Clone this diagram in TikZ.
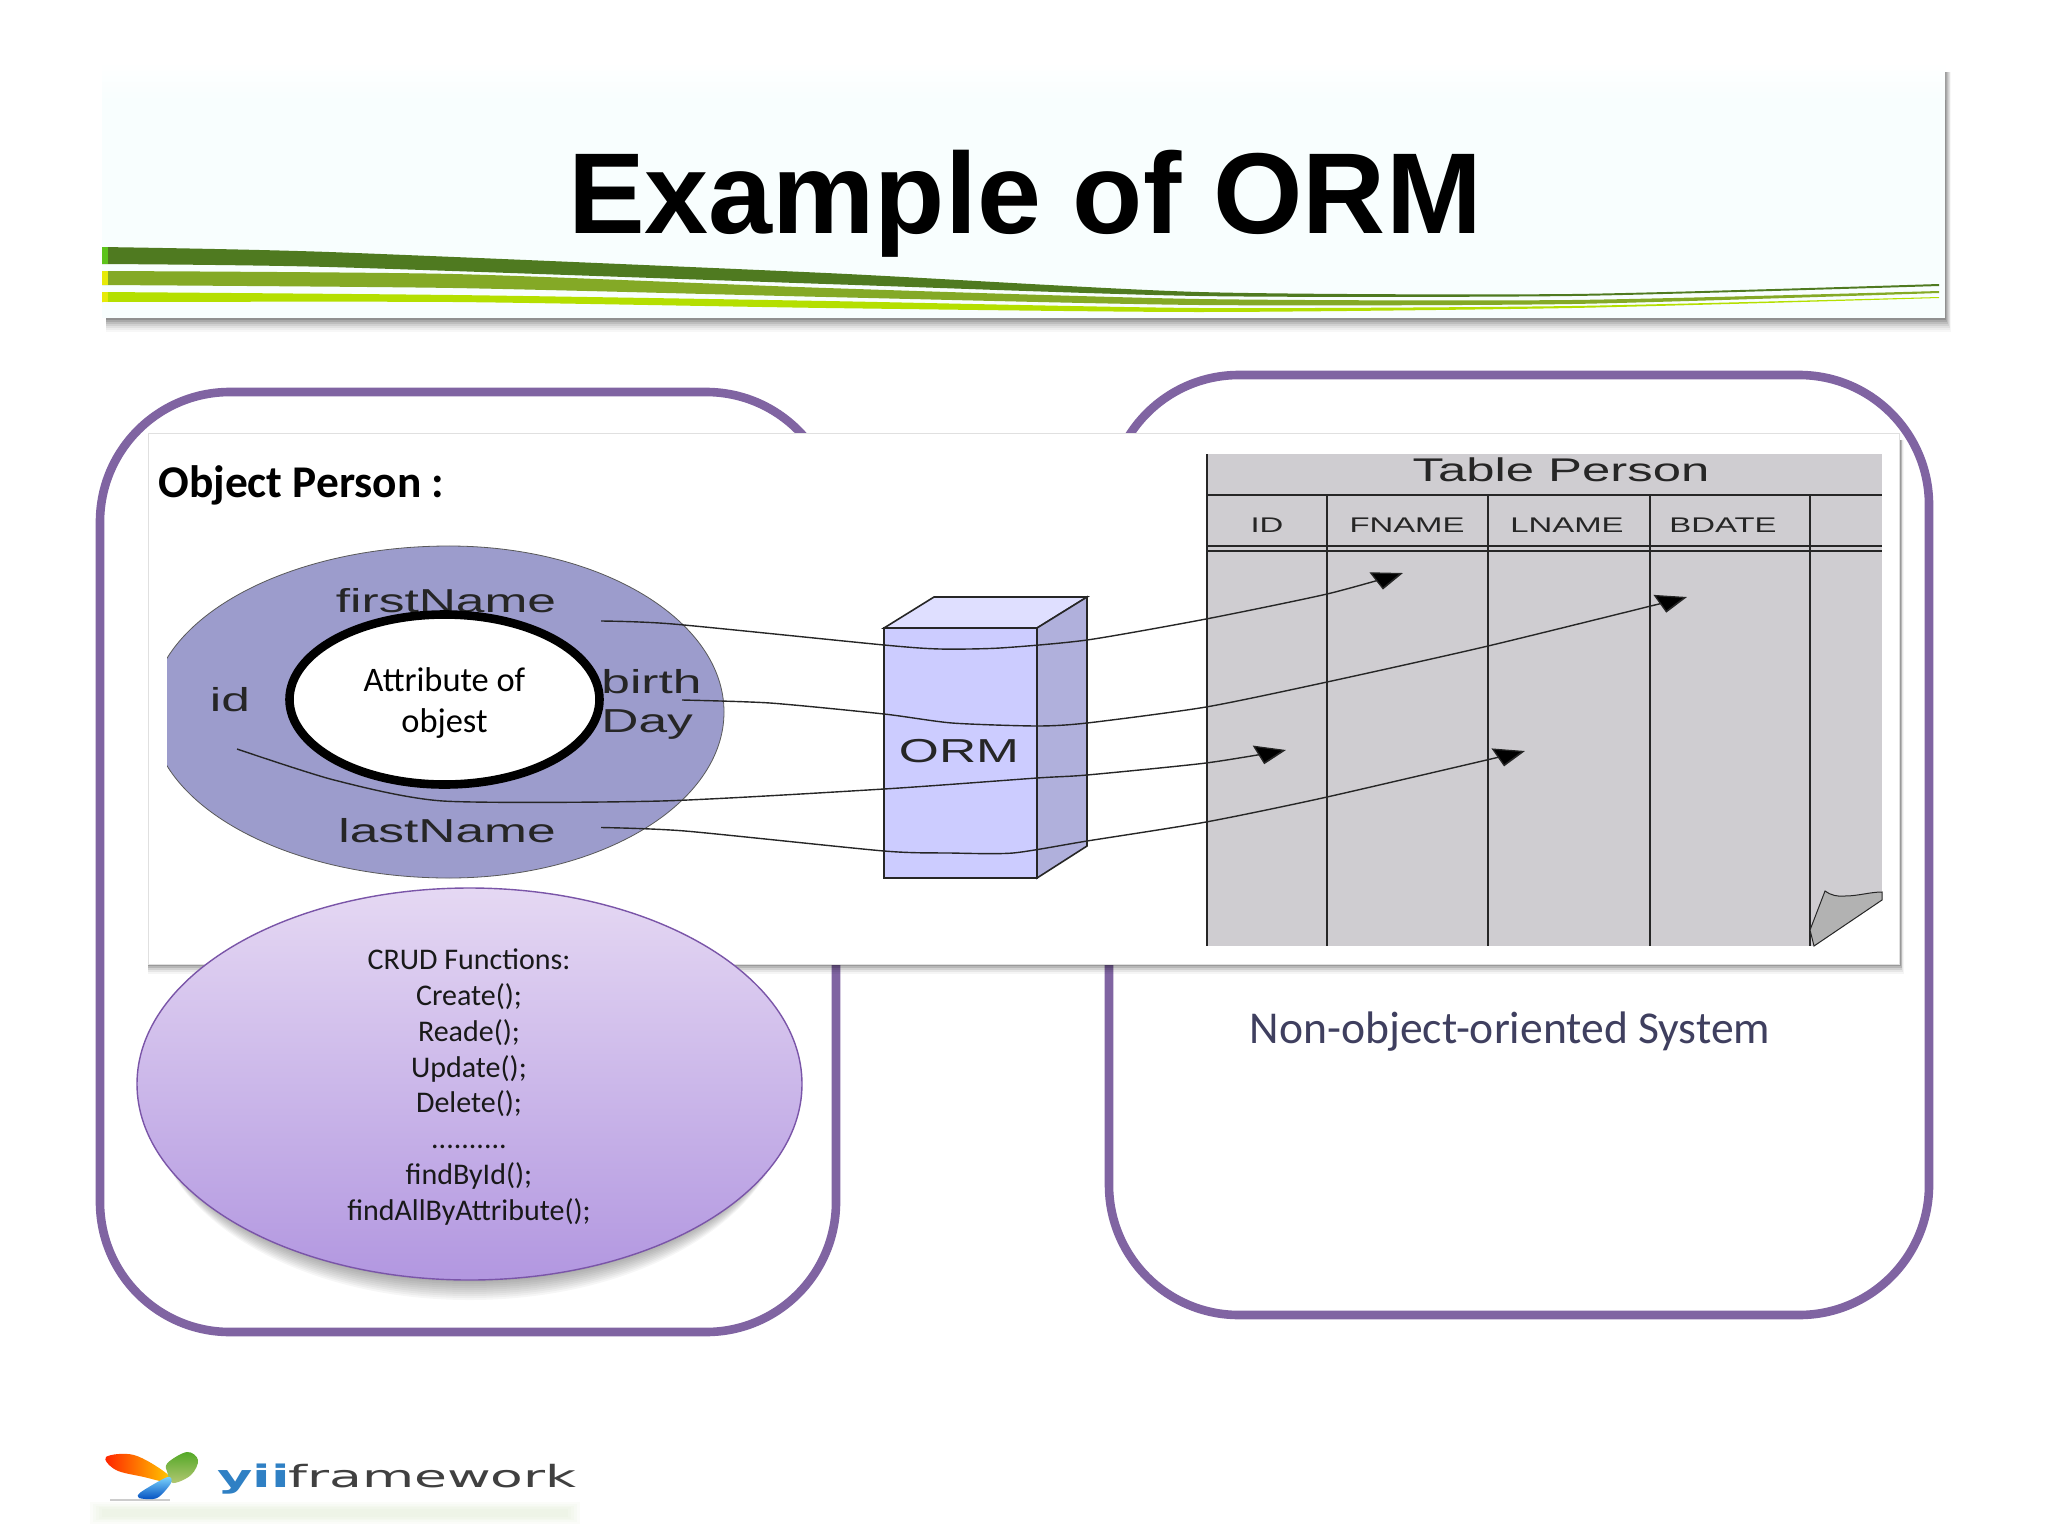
\documentclass[tikz,border=0pt]{standalone}
\usepackage{fontspec}
\setmainfont{Carlito}
\newfontfamily\titlefont{Liberation Sans}[BoldFont=* Bold]
\newfontfamily\wide{Liberation Sans}[FakeStretch=1.55]
\newfontfamily\logofont{DejaVu Sans}[FakeStretch=1.75]
\usetikzlibrary{shapes.geometric,arrows.meta}
\definecolor{slidebg}{HTML}{F8FEFE}
\definecolor{stripeA}{HTML}{4F7A20}
\definecolor{stripeB}{HTML}{84A926}
\definecolor{stripeC}{HTML}{B4DF00}
\definecolor{boxpurple}{HTML}{8064A2}
\definecolor{blobblue}{HTML}{9C9CCC}
\definecolor{crudtop}{HTML}{E5D8F3}
\definecolor{crudbot}{HTML}{B297E0}
\definecolor{crudline}{HTML}{7A55A8}
\definecolor{ormfront}{HTML}{CCCCFF}
\definecolor{ormtop}{HTML}{DFDFFF}
\definecolor{ormside}{HTML}{B0B0DC}
\definecolor{tablegray}{HTML}{CFCDD1}
\definecolor{curlgray}{HTML}{B2B2B2}
\definecolor{inktext}{HTML}{262626}
\definecolor{subtitle}{HTML}{3F3F5F}
\definecolor{glow}{HTML}{DCEBCB}
\definecolor{yiiblue}{HTML}{2F80C4}
\tikzset{
  x=0.5pt,y=-0.5pt,
  conn/.style={draw=inktext,line width=0.7pt,-{Triangle[length=14pt,width=10pt,slant=-0.4,fill=black]}},
  tline/.style={draw=black!85,line width=0.9pt},
  bigbox/.style={draw=boxpurple,line width=4.3pt,rounded corners=65pt,inner sep=0pt,fill=white},
  wlabel/.style={font=\wide\fontsize{16.6}{19}\selectfont,text=inktext,inner sep=0pt,anchor=center},
  hlabel/.style={font=\wide\fontsize{10.6}{12}\selectfont,text=inktext,inner sep=0pt,anchor=center},
  smooth curve/.style={smooth,tension=0.4},
}
\begin{document}
\begin{tikzpicture}
\useasboundingbox (0,0) rectangle (2048,1536);
\fill[white] (0,0) rectangle (2048,1536);

% slide header with soft shadow
\foreach \o/\a in {14/0.03,12/0.04,10/0.05,8/0.07,6/0.09,4/0.11,2/0.14}{
  \fill[black,opacity=\a] (106,72) rectangle (1945+\o*0.45,318+\o);
}
\fill[slidebg] (102,62) rectangle (1945,318);
\shade[top color=white,bottom color=slidebg] (102,62) rectangle (1945,100);
\fill[stripeA] plot[smooth curve] coordinates {(102,247) (329,252) (826,273) (1199,292) (1572,294) (1939,284)}
  -- plot[smooth curve] coordinates {(1939,286) (1572,296) (1199,296) (826,284) (329,267) (102,264)} -- cycle;
\fill[stripeB] plot[smooth curve] coordinates {(102,271) (453,274) (826,288) (1199,299) (1572,300) (1939,291)}
  -- plot[smooth curve] coordinates {(1939,293) (1572,304) (1199,305) (826,297) (453,288) (102,285)} -- cycle;
\fill[stripeC] plot[smooth curve] coordinates {(102,292) (453,295) (826,301) (1199,308) (1572,306) (1939,297)}
  -- plot[smooth curve] coordinates {(1939,298) (1572,308) (1199,312) (826,308) (453,302) (102,302)} -- cycle;
\fill[stripeB!70!green] (102,247) rectangle (108,264);
\fill[yellow!90!green] (102,271) rectangle (108,285);
\fill[yellow!90!green] (102,292) rectangle (108,302);
\node[font=\titlefont\bfseries\fontsize{57.5}{60}\selectfont,inner sep=0pt] (title) at (1025,204) {Example of ORM};

% two large rounded frames
\node[bigbox,minimum width=368pt,minimum height=470pt] (leftframe) at (468,862) {};
\node[bigbox,minimum width=410pt,minimum height=470pt] (rightframe) at (1519,845) {};

% central panel
\foreach \o/\a in {10/0.04,8/0.06,6/0.09,4/0.12,2/0.16}{
  \fill[black,opacity=\a] (148,440) rectangle (1900+\o*0.4,964+\o);
}
\node[fill=white,draw=black!12,line width=0.4pt,inner sep=0pt,minimum width=875.5pt,minimum height=265.5pt] (panel) at (1024,698.5) {};
\node[font=\bfseries\fontsize{22.7}{26}\selectfont,anchor=west,inner sep=0pt] (objlabel) at (158,485) {Object Person :};

% object blob: the left half bulges further and is cut off at x=167
\begin{scope}
\clip (167,500) rectangle (449,900);
\node[ellipse,draw=black!65,line width=0.4pt,fill=blobblue,inner sep=0pt,minimum width=298pt,minimum height=166pt] (blobleft) at (449,712) {};
\end{scope}
\begin{scope}
\clip (449,500) rectangle (760,900);
\node[ellipse,draw=black!65,line width=0.4pt,fill=blobblue,inner sep=0pt,minimum width=275pt,minimum height=166pt] (blobright) at (449,712) {};
\end{scope}
\node[wlabel] (firstname) at (446,601) {firstName};
\node[wlabel,anchor=west] (birth) at (601,682) {birth};
\node[wlabel,anchor=west] (day) at (601,725) {Day};
\node[wlabel] (id) at (230,700) {id};
\node[wlabel] (lastname) at (447,831) {lastName};
\node[ellipse,draw=black,line width=4.3pt,fill=white,inner sep=0pt,minimum width=155pt,minimum height=85pt] (attr) at (444.5,699.5) {};
\node[align=center,font=\fontsize{17.2}{20.4}\selectfont,inner sep=0pt] (attrtext) at (444.5,703) {Attribute of\\objest};

% ORM box
\coordinate (fTL) at (884,628); \coordinate (fTR) at (1037,628);
\coordinate (fBL) at (884,878); \coordinate (fBR) at (1037,878);
\coordinate (bTL) at (934,597); \coordinate (bTR) at (1087,597);
\coordinate (bBR) at (1087,846);
\draw[fill=ormtop,line width=0.8pt,draw=black!85] (fTL) -- (bTL) -- (bTR) -- (fTR) -- cycle;
\draw[fill=ormside,line width=0.8pt,draw=black!85] (fTR) -- (bTR) -- (bBR) -- (fBR) -- cycle;
\draw[fill=ormfront,line width=0.8pt,draw=black!85] (fTL) rectangle (fBR);
\node[wlabel] (orm) at (959,751) {ORM};

% table
\fill[tablegray] (1207,454) rectangle (1882,946);
\draw[tline] (1207,454) -- (1207,946);
\draw[tline] (1207,495) -- (1882,495);
\draw[tline] (1207,546) -- (1882,546);
\draw[tline] (1207,551) -- (1882,551);
\foreach \cx in {1327,1488,1650,1810}{\draw[tline] (\cx,495) -- (\cx,946);}
\fill[white] (1882,900) -- (1882,946) -- (1814,946) -- cycle;
\draw[fill=curlgray,draw=black!85,line width=0.5pt] (1825,891) .. controls (1830,895) and (1838,897) .. (1845,896) .. controls (1858,896) and (1870,892) .. (1882,892) -- (1882,900) -- (1814,946) -- (1810,930) -- cycle;
\node[font=\wide\fontsize{16.4}{18}\selectfont,text=inktext,inner sep=0pt] (tabtitle) at (1561,470) {Table Person};
\node[hlabel] (colid) at (1267,525) {ID};
\node[hlabel] (colf) at (1407,525) {FNAME};
\node[hlabel] (coll) at (1567,525) {LNAME};
\node[hlabel] (colb) at (1723,525) {BDATE};

% connectors
\coordinate (fnstart) at (601,621);  \coordinate (fnend) at (1403,573);
\coordinate (bdstart) at (682,700);  \coordinate (bdend) at (1687,597);
\coordinate (idstart) at (237,749);  \coordinate (idend) at (1286,750);
\coordinate (lnstart) at (601,827.5);\coordinate (lnend) at (1525,751);
\draw[conn] plot[smooth curve] coordinates {(fnstart) (673,624) (884,645) (940,649) (1000,648) (1087,640) (1206,619) (1327,594) (fnend)};
\draw[conn] plot[smooth curve] coordinates {(bdstart) (770,703) (884,714) (952,723) (1037,726) (1087,723) (1206,707) (1327,682) (1488,646) (bdend)};
\draw[conn] plot[smooth curve] coordinates {(idstart) (334,780) (443,801) (661,801) (884,789) (1037,778) (1087,775) (1206,763) (idend)};
\draw[conn] plot[smooth curve] coordinates {(lnstart) (685,831) (884,851) (950,853) (1013,853) (1087,841) (1206,822) (1327,797) (lnend)};

% CRUD ellipse with soft shadow
\foreach \o in {2,4,...,22}{
  \fill[black,opacity=0.035] (469.5,1084+\o) ellipse [x radius=328-\o*0.5,y radius=194];
}
\node[ellipse,draw=crudline,line width=0.7pt,top color=crudtop,bottom color=crudbot,inner sep=0pt,minimum width=332.5pt,minimum height=196pt] (crud) at (469.5,1084) {};
\node[align=center,font=\fontsize{15}{17.9}\selectfont,text=black!90,inner sep=0pt] (crudtext) at (469,1087) {CRUD Functions:\\Create();\\Reade();\\Update();\\Delete();\\..........\\findById();\\findAllByAttribute();};

\node[font=\fontsize{22.8}{26}\selectfont,text=subtitle,inner sep=0pt] (nonoo) at (1510,1032) {Non-object-oriented System};

% logo
\foreach \i in {0,3,...,12}{
  \fill[glow,opacity=0.1] (90+\i,1502+\i*0.6) rectangle (580-\i,1524-\i*0.6);
}
\fill[black!20] (110,1499) rectangle (170,1501);
\shade[left color=red!75!orange,right color=yellow!60!orange] plot[smooth cycle,tension=0.6] coordinates {(106,1457) (134,1455) (166,1473) (167.5,1482) (144,1477) (116,1470)};
\shade[top color=green!55!lime!60!black!85,bottom color=lime!60!black!55!white] plot[smooth cycle,tension=0.6] coordinates {(167.5,1463) (187,1452) (198,1460) (191,1475) (173,1483) (167.5,1473)};
\shade[top color=blue!30!cyan!50!white,bottom color=blue!60!cyan!75!black] plot[smooth cycle,tension=0.5] coordinates {(139,1498) (141,1492) (167.5,1477) (171,1483) (157,1498)};
\node[font=\logofont\bfseries\fontsize{15.5}{18}\selectfont,text=yiiblue,anchor=base west,inner sep=0pt] (yii) at (217,1487) {yii};
\node[font=\logofont\fontsize{15.3}{18}\selectfont,text=black!75,anchor=base west,inner sep=0pt] (fw) at (288,1487) {framework};
\end{tikzpicture}
\end{document}
